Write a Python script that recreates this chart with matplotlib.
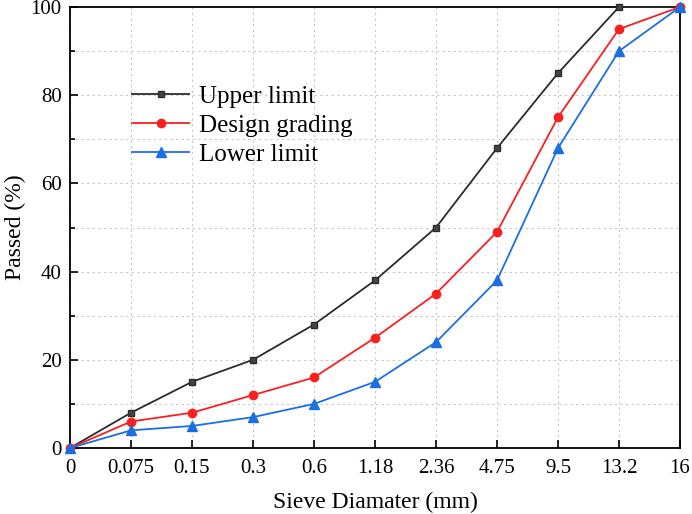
import matplotlib.pyplot as plt
from matplotlib.ticker import MultipleLocator

plt.rcParams['font.family'] = ['Liberation Serif', 'DejaVu Serif']

sieve_labels = ["0", "0.075", "0.15", "0.3", "0.6", "1.18", "2.36", "4.75", "9.5", "13.2", "16"]
upper_limit = [0, 8, 15, 20, 28, 38, 50, 68, 85, 100, 100]
design_grading = [0, 6, 8, 12, 16, 25, 35, 49, 75, 95, 100]
lower_limit = [0, 4, 5, 7, 10, 15, 24, 38, 68, 90, 100]

x = list(range(len(sieve_labels)))

fig = plt.figure(figsize=(6.92, 5.14), dpi=100)
ax = fig.add_axes([70/692, 1 - 448/514, 610/692, 441/514])

ax.plot(x, upper_limit, color='#2b2b2b', marker='s', markersize=5, linewidth=1.3,
        markerfacecolor='#444444', markeredgecolor='#2b2b2b', label='Upper limit', clip_on=False, zorder=3)
ax.plot(x, design_grading, color='#fa2020', marker='o', markersize=6, linewidth=1.3,
        label='Design grading', clip_on=False, zorder=3)
ax.plot(x, lower_limit, color='#1a6fe3', marker='^', markersize=7, linewidth=1.3,
        label='Lower limit', clip_on=False, zorder=3)

ax.set_xlim(0, 10)
ax.set_ylim(0, 100)
ax.set_xticks(x)
ax.set_xticklabels(sieve_labels)
ax.yaxis.set_major_locator(MultipleLocator(20))
ax.yaxis.set_minor_locator(MultipleLocator(10))

ax.grid(True, which='both', color='#c8c8c8', linestyle=(0, (2, 3)), linewidth=0.8)
ax.tick_params(which='major', direction='in', length=6, width=1.2, labelsize=15)
ax.tick_params(axis='x', which='major', pad=8)
ax.tick_params(axis='y', which='major', pad=6)
ax.tick_params(which='minor', direction='in', length=3.5, width=1.2)
for s in ax.spines.values():
    s.set_linewidth(1.3)

ax.set_xlabel('Sieve Diamater (mm)', fontsize=17, labelpad=10)
ax.set_ylabel('Passed (%)', fontsize=17, labelpad=3)

ax.legend(loc='upper left', bbox_to_anchor=(0.085, 0.845), frameon=False, fontsize=18,
          handlelength=2.3, handletextpad=0.4, labelspacing=0.26, borderaxespad=0)

fig.savefig('out.png', dpi=100)
